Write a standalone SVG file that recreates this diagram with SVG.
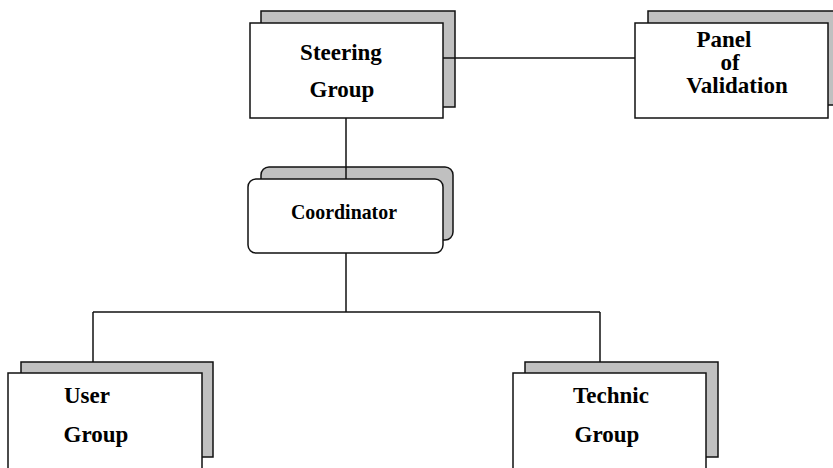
<svg xmlns="http://www.w3.org/2000/svg" width="833" height="468" viewBox="0 0 833 468">
<style>
.back{fill:#c0c0c0;stroke:#111;stroke-width:1.5}
.front{fill:#fff;stroke:#111;stroke-width:1.5}
.t{font-family:"Liberation Serif","Times New Roman",serif;font-weight:bold;font-size:23px;fill:#000;text-anchor:middle}
.ts{font-size:21px}
.c{stroke:#111;stroke-width:1.5;fill:none}
</style>
<rect width="833" height="468" fill="#fff"/>
<g id="steering">
<rect class="back" x="261" y="11" width="194" height="96"/>
<rect class="front" x="250" y="23" width="193" height="95"/>
<text class="t" x="341" y="60" font-size="24">Steering</text>
<text class="t" x="342" y="97" font-size="24">Group</text>
</g>
<g id="panel">
<rect class="back" x="648" y="11" width="196" height="94"/>
<rect class="front" x="635" y="23" width="193" height="95"/>
<text class="t" x="724" y="47">Panel</text>
<text class="t" x="730" y="70">of</text>
<text class="t" x="737" y="93">Validation</text>
</g>
<g id="coordinator">
<rect class="back" x="261" y="167" width="192" height="73" rx="8"/>
<rect class="front" x="248" y="179" width="195" height="74" rx="8"/>
<text class="t ts" x="344" y="219" textLength="106" lengthAdjust="spacingAndGlyphs">Coordinator</text>
</g>
<g id="user">
<rect class="back" x="21" y="362" width="192" height="95"/>
<rect class="front" x="8" y="373" width="194" height="110"/>
<text class="t" x="87" y="403">User</text>
<text class="t" x="96" y="442">Group</text>
</g>
<g id="technic">
<rect class="back" x="525" y="362" width="193" height="95"/>
<rect class="front" x="513" y="373" width="193" height="110"/>
<text class="t" x="611" y="403">Technic</text>
<text class="t" x="607" y="442">Group</text>
</g>
<g id="connectors">
<line class="c" x1="443" y1="58" x2="635" y2="58"/>
<line class="c" x1="346" y1="118" x2="346" y2="179"/>
<line class="c" x1="346" y1="253" x2="346" y2="312"/>
<line class="c" x1="93" y1="312" x2="600" y2="312"/>
<line class="c" x1="93" y1="312" x2="93" y2="362"/>
<line class="c" x1="600" y1="312" x2="600" y2="362"/>
</g>
</svg>
